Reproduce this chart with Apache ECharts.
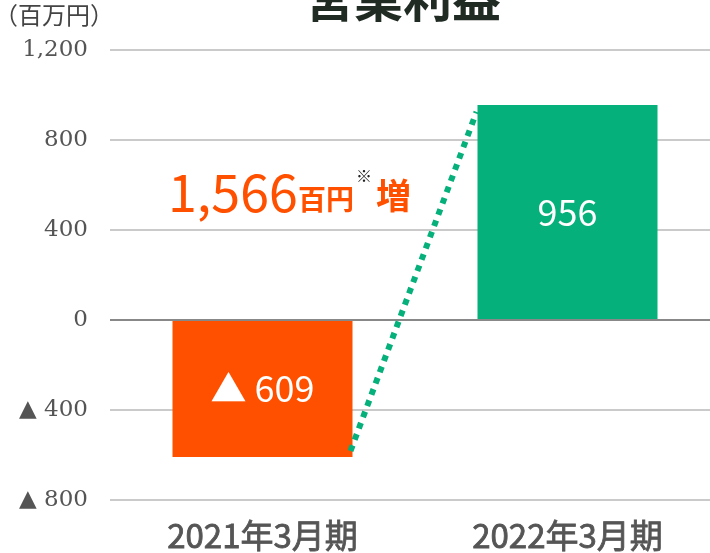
<!DOCTYPE html>
<html>
<head>
<meta charset="utf-8">
<script src="https://cdn.jsdelivr.net/npm/echarts@6/dist/echarts.min.js"></script>
<style>
  html, body { margin: 0; padding: 0; background: #fff; }
  #chart { width: 710px; height: 553px; }
</style>
</head>
<body>
<div id="chart"></div>
<script>
// data
var years = ['2021年3月期', '2022年3月期'];
var profit = [-609, 956];
var barColors = ['#ff5000', '#05b07a'];
var yTicks = { min: -800, max: 1200, step: 400 };
var titleText = '営業利益';
var unitText = '（百万円）';
var diffText = ['1,566', '百円', '※', '増'];

var sansFont = '"Noto Sans CJK JP", "Noto Sans", sans-serif';

// 1200 -> "1,200", -400 -> "▲ 400"
function fmt(v) {
  var s = String(Math.abs(v)).replace(/\B(?=(\d{3})+(?!\d))/g, ',');
  return v < 0 ? '▲ ' + s : s;
}

var chart = echarts.init(document.getElementById('chart'));

var option = {
  animation: false,
  grid: { left: 110, width: 610, top: 50, bottom: 53, containLabel: false, outerBoundsMode: 'none' },
  title: {
    text: titleText,
    left: 398,
    top: -31,
    textAlign: 'center',
    textStyle: { fontFamily: sansFont, fontSize: 49, fontWeight: 'bold', color: '#1f2b23' }
  },
  graphic: [
    {
      type: 'text', left: -6, top: 3,
      style: { text: unitText, fontFamily: sansFont, fontSize: 24, fill: '#444' }
    },
    {
      type: 'text', left: 168, top: 166,
      style: {
        text: '{a|' + diffText[0] + '}{b|' + diffText[1] + '}',
        rich: {
          a: { fontFamily: sansFont, fontSize: 52, fill: '#ff5000', verticalAlign: 'bottom' },
          b: { fontFamily: sansFont, fontSize: 28, fontWeight: 'bold', fill: '#ff5000', verticalAlign: 'bottom', padding: [0, 0, 5, 0] }
        }
      }
    },
    {
      type: 'text', left: 356, top: 168,
      style: { text: diffText[2], fontFamily: sansFont, fontSize: 16, fill: '#222' }
    },
    {
      type: 'text', left: 376, top: 178,
      style: { text: diffText[3], fontFamily: sansFont, fontSize: 35, fontWeight: 'bold', fill: '#ff5000' }
    }
  ],
  xAxis: {
    type: 'category',
    data: years,
    axisLine: { show: false, onZero: false },
    axisTick: { show: false },
    axisLabel: {
      margin: 19, fontFamily: sansFont, fontSize: 33, color: '#555',
      textBorderColor: '#555', textBorderWidth: 0.8
    }
  },
  yAxis: {
    type: 'value',
    min: yTicks.min,
    max: yTicks.max,
    interval: yTicks.step,
    axisLine: { show: false },
    axisTick: { show: false },
    splitLine: { lineStyle: { color: '#cacaca', width: 2 } },
    axisLabel: {
      margin: 22,
      fontFamily: '"DejaVu Serif", serif',
      fontSize: 23,
      color: '#555',
      formatter: fmt
    }
  },
  series: [
    {
      type: 'bar',
      barWidth: 180,
      data: profit.map(function (v, i) {
        return { value: v, itemStyle: { color: barColors[i] } };
      }),
      label: {
        show: true,
        position: 'inside',
        fontFamily: sansFont,
        fontSize: 36,
        color: '#fff',
        formatter: function (p) { return fmt(p.value); }
      },
      markLine: {
        silent: true,
        symbol: 'none',
        label: { show: false },
        lineStyle: { color: '#888', width: 2, type: 'solid' },
        data: [{ yAxis: 0 }]
      }
    },
    {
      // dotted connector from the end of last year's bar to the top of this year's bar
      type: 'custom',
      silent: true,
      z: 5,
      data: [[0, profit[0], profit[1]]],
      renderItem: function (params, api) {
        var half = 90;
        var p0 = api.coord([0, api.value(1)]);
        var p1 = api.coord([1, api.value(2)]);
        return {
          type: 'line',
          shape: { x1: p0[0] + half - 2, y1: p0[1] - 6, x2: p1[0] - half - 1, y2: p1[1] + 7 },
          style: { stroke: '#05b07a', lineWidth: 6, lineDash: [6, 6] }
        };
      }
    }
  ]
};

chart.setOption(option);
</script>
</body>
</html>
